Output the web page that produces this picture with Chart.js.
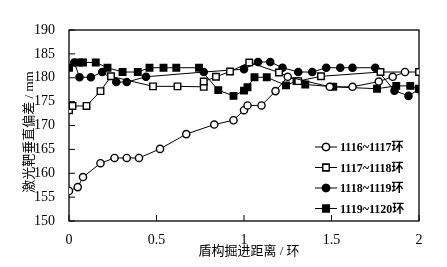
<!DOCTYPE html>
<html>
<head>
<meta charset="utf-8">
<script src="https://cdn.jsdelivr.net/npm/chart.js@4/dist/chart.umd.min.js"></script>
<style>
html,body{margin:0;padding:0;background:#fff}
#wrap{width:447px;height:267px}
</style>
</head>
<body>
<div id="wrap"><canvas id="c" width="447" height="267"></canvas></div>
<script>
// tick values
const xTicks=[0,0.5,1,1.5,2]
const yTicks=[150,155,160,165,170,175,180,185,190]

const labels=["1116~1117环","1117~1118环","1118~1119环","1119~1120环"]

// 1116~1117 (open circles)
const s1x=[0,0.05,0.08,0.18,0.26,0.33,0.40,0.52,0.67,0.83,0.94,1.0,1.02,1.1,1.18,1.25,1.49,1.62,1.77,1.85,1.92]
const s1y=[156.3,157.1,159.2,162.1,163.2,163.2,163.2,165.1,168.2,170.2,171.1,173.2,174.2,174.2,177.2,180.2,178.1,178.1,179.2,180.2,181.2]

// 1117~1118 (open squares)
const s2x=[0,0.02,0.10,0.18,0.24,0.48,0.62,0.77,0.77,0.84,0.92,1.03,1.2,1.31,1.44,1.78,2.0]
const s2y=[173.2,174.1,174.1,177.2,180.3,178.2,178.2,178.1,179.2,180.2,181.3,183.2,181.1,179.3,180.3,181.2,181.2]

// 1118~1119 (filled circles)
const s3x=[0.03,0.06,0.125,0.19,0.27,0.33,0.44,0.77,1.0,1.08,1.15,1.22,1.31,1.39,1.47,1.55,1.62,1.75,1.86,1.94,2.0]
const s3y=[183.2,180.1,180.1,181.2,179.1,179.1,180.2,181.2,181.8,183.3,183.3,182.1,181.2,181.2,182.1,182.1,182.1,182.1,177.3,176.2,177.6]

// 1119~1120 (filled squares)
const s4x=[0,0.057,0.08,0.153,0.22,0.306,0.393,0.46,0.54,0.613,0.743,0.853,0.94,1.0,1.02,1.06,1.13,1.24,1.30,1.35,1.51,1.76,1.87,1.95,2.0]
const s4y=[182.1,183.2,183.2,183.2,182.1,181.2,181.2,182.1,182.1,182.1,182.1,177.4,176.2,177.3,178.0,180.1,180.1,178.4,179.3,178.6,178.1,177.7,178.3,178.3,177.7]

const serif="'Liberation Serif','Noto Sans CJK SC'"

function pts(xs,ys){
return xs.map((x,i)=>({x:x,y:ys[i]}))
}

function makeSet(label,xs,ys,style,fill){
return {
label:label,
data:pts(xs,ys),
borderColor:"#000",
borderWidth:1,
pointStyle:style,
pointRadius:style=="rect"?4.6:3.6,
pointBorderWidth:1.4,
pointBackgroundColor:fill,
pointBorderColor:"#000",
tension:0,
fill:false
}
}

const sets=[
makeSet(labels[0],s1x,s1y,"circle","#fff"),
makeSet(labels[1],s2x,s2y,"rect","#fff"),
makeSet(labels[2],s3x,s3y,"circle","#000"),
makeSet(labels[3],s4x,s4y,"rect","#000")
]

// frame, inward ticks, titles and legend
const decor={
id:"decor",
beforeDatasetsDraw(chart){
let ctx=chart.ctx
let a=chart.chartArea
let xs=chart.scales.x, ys=chart.scales.y
ctx.save()
ctx.strokeStyle="#000"
ctx.lineWidth=1.3
ctx.strokeRect(a.left,a.top,a.right-a.left,a.bottom-a.top)
ctx.lineWidth=1
ctx.beginPath()
yTicks.forEach(v=>{
let y=ys.getPixelForValue(v)
ctx.moveTo(a.left,y)
ctx.lineTo(a.left+6,y)
})
xTicks.forEach(v=>{
let x=xs.getPixelForValue(v)
ctx.moveTo(x,a.bottom)
ctx.lineTo(x,a.bottom-6)
})
ctx.stroke()
ctx.restore()
},
afterDraw(chart){
let ctx=chart.ctx
ctx.save()
ctx.fillStyle="#000"
ctx.font="13px "+serif
ctx.textAlign="center"
ctx.textBaseline="middle"
ctx.fillText("盾构掘进距离 / 环",249,252)
ctx.translate(30,132)
ctx.rotate(-Math.PI/2)
ctx.fillText("激光靶垂直偏差 / mm",0,0)
ctx.restore()

// legend
ctx.save()
chart.data.datasets.forEach((d,i)=>{
let y=147+i*20.5
ctx.strokeStyle="#000"
ctx.lineWidth=1
ctx.beginPath()
ctx.moveTo(315,y)
ctx.lineTo(337,y)
ctx.stroke()
ctx.lineWidth=1.4
ctx.fillStyle=d.pointBackgroundColor
Chart.helpers.drawPoint(ctx,{pointStyle:d.pointStyle,rotation:0,radius:d.pointRadius,borderWidth:1.4},326,y)
ctx.fill()
ctx.stroke()
ctx.fillStyle="#000"
ctx.font="bold 12px "+serif
ctx.textAlign="left"
ctx.textBaseline="middle"
ctx.fillText(d.label,340,y+1)
})
ctx.restore()
}
}

new Chart(document.getElementById("c"),{
type:"line",
data:{datasets:sets},
options:{
responsive:false,
animation:false,
layout:{padding:{top:30,right:28,left:0,bottom:0}},
plugins:{legend:{display:false},tooltip:{enabled:false}},
scales:{
x:{
type:"linear",
min:0,max:2,
afterFit:s=>{s.height=46},
afterBuildTicks:s=>{s.ticks=xTicks.map(v=>({value:v}))},
grid:{display:false},
border:{display:false},
ticks:{color:"#000",padding:3,font:{family:serif,size:14},maxRotation:0,callback:v=>String(v)}
},
y:{
min:150,max:190,
afterFit:s=>{s.width=69},
afterBuildTicks:s=>{s.ticks=yTicks.map(v=>({value:v}))},
grid:{display:false},
border:{display:false},
ticks:{color:"#000",padding:6,font:{family:serif,size:14}}
}
}
},
plugins:[decor]
})
</script>
</body>
</html>
